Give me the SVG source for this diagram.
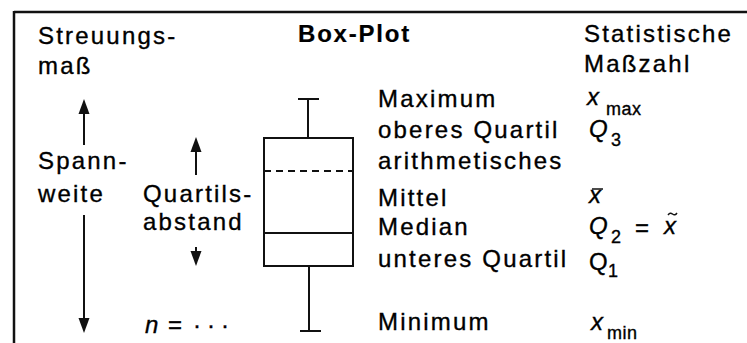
<svg xmlns="http://www.w3.org/2000/svg" xmlns:xlink="http://www.w3.org/1999/xlink" width="747" height="343" viewBox="0 0 747 343">
<style>
.t{font-family:"Liberation Sans",Arial,Helvetica,sans-serif;font-size:24px;fill:#000;stroke:#000;stroke-width:0.35px;letter-spacing:2.2px}
.b{font-weight:bold;letter-spacing:1.8px;stroke-width:0.2px}
.i{font-style:italic;letter-spacing:0}
.s{font-size:18px;font-style:normal;letter-spacing:0.5px}
.ln{stroke:#111;stroke-width:2;fill:none}
.ar{stroke:#111;stroke-width:2}
.hd{fill:#111}
</style>
<defs>
<path id="headUp" d="M0,0 L-5.5,15 L5.5,15 Z"/>
<path id="headDown" d="M0,0 L-5.5,-15 L5.5,-15 Z"/>
</defs>
<rect width="747" height="343" fill="#fff"/>
<g id="frame">
<line x1="14" y1="12" x2="747" y2="12" stroke="#111" stroke-width="2.5"/>
<line x1="14" y1="11" x2="14" y2="343" stroke="#111" stroke-width="2.5"/>
</g>
<g id="headers">
<text class="t" x="38" y="44">Streuungs-</text>
<text class="t" x="38" y="74">maß</text>
<text class="t b" x="298" y="42">Box-Plot</text>
<text class="t" x="584" y="42">Statistische</text>
<text class="t" x="584" y="72">Maßzahl</text>
</g>
<g id="boxplot">
<line class="ln" x1="298" y1="99" x2="319" y2="99"/>
<line class="ln" x1="308" y1="99" x2="308" y2="138"/>
<rect class="ln" x="264" y="138" width="89" height="128"/>
<line class="ln" x1="264" y1="171" x2="353" y2="171" stroke-dasharray="7,5"/>
<line class="ln" x1="264" y1="233" x2="353" y2="233"/>
<line class="ln" x1="309" y1="266" x2="309" y2="331"/>
<line class="ln" x1="300" y1="331" x2="321" y2="331"/>
</g>
<g id="labels">
<text class="t" x="378" y="107">Maximum</text>
<text class="t" x="378" y="138">oberes Quartil</text>
<text class="t" x="378" y="169">arithmetisches</text>
<text class="t" x="378" y="206">Mittel</text>
<text class="t" x="378" y="235">Median</text>
<text class="t" x="378" y="267">unteres Quartil</text>
<text class="t" x="378" y="330">Minimum</text>
</g>
<g id="measures">
<text class="t i" x="587" y="105">x<tspan class="s" x="606" y="115">max</tspan></text>
<text class="t i" x="589" y="137">Q<tspan class="s" x="611" y="146">3</tspan></text>
<text class="t i" x="589" y="203">x</text>
<line x1="592" y1="189" x2="603" y2="189" stroke="#111" stroke-width="1.5"/>
<text class="t i" x="589" y="234">Q<tspan class="s" x="611" y="243">2</tspan></text>
<text class="t" x="635" y="236" style="letter-spacing:0">=</text>
<text class="t i" x="664" y="234">x</text>
<path d="M668,215 q2,-3 4.5,-1 t4.5,-1" fill="none" stroke="#111" stroke-width="1.4"/>
<text class="t" x="589" y="270" style="letter-spacing:0">Q<tspan class="s" x="608" y="277">1</tspan></text>
<text class="t i" x="591" y="330">x<tspan class="s" x="607" y="339">min</tspan></text>
</g>
<g id="spannweite">
<text class="t" x="38" y="169">Spann-</text>
<text class="t" x="38" y="202">weite</text>
</g>
<g id="quartilsabstand">
<text class="t" x="143" y="202">Quartils-</text>
<text class="t" x="143" y="230">abstand</text>
</g>
<g id="n">
<text class="t i" x="145" y="333">n</text>
<text class="t" x="168" y="333" style="letter-spacing:0">=</text>
<text class="t" x="193" y="333" style="letter-spacing:6px">···</text>
</g>
<g id="connectors">
<line class="ar" x1="84" y1="145" x2="84" y2="110"/>
<use class="hd" href="#headUp" xlink:href="#headUp" x="84" y="99"/>
<line class="ar" x1="84" y1="215" x2="84" y2="322"/>
<use class="hd" href="#headDown" xlink:href="#headDown" x="84" y="333"/>
<line class="ar" x1="196" y1="175" x2="196" y2="148"/>
<use class="hd" href="#headUp" xlink:href="#headUp" x="196" y="137"/>
<line class="ar" x1="196" y1="247" x2="196" y2="256"/>
<use class="hd" href="#headDown" xlink:href="#headDown" x="196" y="266"/>
</g>
</svg>
